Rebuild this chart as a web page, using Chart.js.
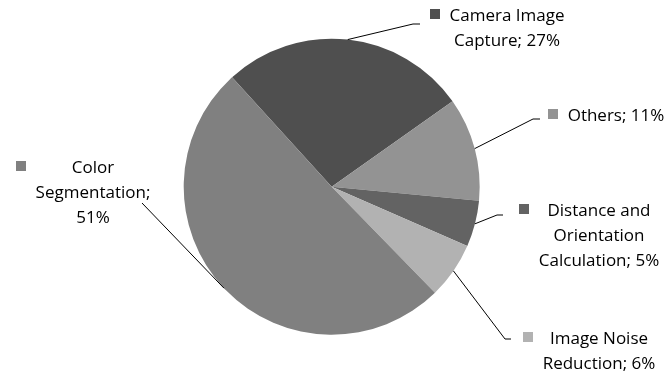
<!DOCTYPE html>
<html>
<head>
<meta charset="utf-8">
<script src="https://cdn.jsdelivr.net/npm/chart.js@4/dist/chart.umd.min.js"></script>
<style>
  html, body { margin: 0; padding: 0; background: #fff; }
  canvas { display: block; }
</style>
</head>
<body>
<canvas id="pieChart" width="671" height="377"></canvas>
<script>
// slices, clockwise from the upper left
var categories = ["Camera Image Capture", "Others", "Distance and Orientation Calculation", "Image Noise Reduction", "Color Segmentation"];
var values = [27.2, 11.4, 5.1, 6.2, 51];
var colors = ["#4f4f4f", "#939393", "#636363", "#b2b2b2", "#808080"];

// label placement: block centre x, first line y, wrap width, leader elbow and end
var labelLayout = [
  { cx: 507, y: 16, wrap: 125, elbow: [413, 24], end: [420, 24] },
  { cx: 616, y: 116.5, wrap: 200, elbow: [533, 119], end: [540, 119] },
  { cx: 599, y: 211.5, wrap: 150, elbow: [497, 215], end: [503, 215] },
  { cx: 599, y: 339, wrap: 130, elbow: [505, 339], end: [511, 339] },
  { cx: 93, y: 168, wrap: 130, elbow: null, end: [142, 203] }
];

var FONT = '17px "Open Sans", "Liberation Sans", sans-serif';
var LINE_H = 25;

function wrapText(ctx, text, maxW) {
  var words = text.split(' ');
  var lines = [];
  var cur = '';
  words.forEach(function (w) {
    var test = cur ? cur + ' ' + w : w;
    if (cur && ctx.measureText(test).width > maxW) {
      lines.push(cur);
      cur = w;
    } else {
      cur = test;
    }
  });
  if (cur) lines.push(cur);
  return lines;
}

var pieLabels = {
  id: 'pieLabels',
  afterDraw: function (chart) {
    var ctx = chart.ctx;
    var meta = chart.getDatasetMeta(0);
    var total = values.reduce(function (a, b) { return a + b; }, 0);
    ctx.save();
    ctx.font = FONT;
    meta.data.forEach(function (arc, i) {
      var lay = labelLayout[i];
      var p = arc.getProps(['x', 'y', 'startAngle', 'endAngle', 'outerRadius'], true);
      var mid = (p.startAngle + p.endAngle) / 2;
      var sx = p.x + Math.cos(mid) * p.outerRadius;
      var sy = p.y + Math.sin(mid) * p.outerRadius;

      // leader line
      ctx.strokeStyle = '#000';
      ctx.lineWidth = 1;
      ctx.beginPath();
      ctx.moveTo(sx, sy);
      if (lay.elbow) ctx.lineTo(lay.elbow[0], lay.elbow[1]);
      ctx.lineTo(lay.end[0], lay.end[1]);
      ctx.stroke();

      // text block
      var pct = Math.round(values[i] / total * 100) + '%';
      var lines = wrapText(ctx, categories[i] + '; ' + pct, lay.wrap);
      var maxW = 0;
      lines.forEach(function (l) { maxW = Math.max(maxW, ctx.measureText(l).width); });
      ctx.fillStyle = '#000';
      ctx.textAlign = 'center';
      ctx.textBaseline = 'middle';
      lines.forEach(function (l, k) {
        ctx.fillText(l, lay.cx, lay.y + k * LINE_H);
      });

      // legend key square
      var left = lay.cx - maxW / 2;
      ctx.fillStyle = colors[i];
      ctx.fillRect(Math.round(left - 20), Math.round(lay.y - 2.5 - 5), 10, 10);
    });
    ctx.restore();
  }
};

new Chart(document.getElementById('pieChart').getContext('2d'), {
  type: 'pie',
  data: {
    labels: categories,
    datasets: [{
      data: values,
      backgroundColor: colors,
      borderWidth: 0,
      hoverBorderWidth: 0,
      hoverOffset: 0
    }]
  },
  options: {
    responsive: false,
    animation: false,
    events: [],
    rotation: -42.3,
    layout: { padding: { top: 38.7, bottom: 42.3, left: 183.7, right: 191.3 } },
    plugins: {
      legend: { display: false },
      tooltip: { enabled: false }
    }
  },
  plugins: [pieLabels]
});
</script>
</body>
</html>
